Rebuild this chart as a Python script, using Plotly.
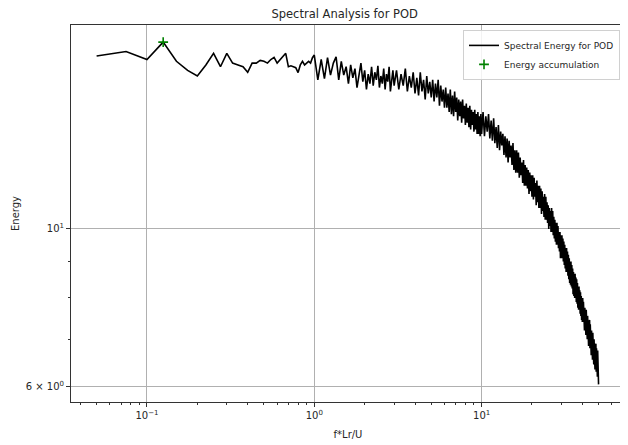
import numpy as np
import plotly.graph_objects as go

# --- data (frequency grids per segment, energies) ---
freq_a = np.round(np.arange(0.05, 1.0001, 0.025), 3)
energy_a = [17.5, 17.75, 17.3, 18.3, 17.2, 16.7, 16.4, 17.0, 17.65, 16.9,
            17.65, 17.1, 17.0, 16.9, 16.6, 17.1, 17.1, 17.25, 17.2, 17.1,
            17.3, 17.42, 17.1, 17.3, 17.5, 17.65, 16.9, 16.95, 16.9, 16.85,
            16.58, 17.0, 17.2, 17.0, 17.1, 17.2, 17.1, 17.4, 17.55]

freq_b = np.round(np.arange(1.05, 3.0001, 0.05), 3)
energy_b = [16.2, 17.3, 16.26, 17.4, 16.45, 17.1, 17.45, 16.2, 17.2, 16.45,
            16.9, 16.0, 17.0, 16.3, 16.8, 15.8, 16.6, 17.1, 16.1, 16.7,
            15.7, 16.5, 16.0, 16.9, 15.9, 16.6, 16.2, 16.95, 15.8, 16.4,
            16.0, 16.8, 15.7, 16.5, 16.1, 16.9, 15.6, 16.3, 16.7, 15.9]

freq_c = np.round(np.arange(3.1, 10.0001, 0.1), 2)
energy_c = [16.7, 15.7, 16.5, 15.9, 16.8, 15.6, 16.4, 15.8, 16.6, 15.5,
            16.3, 15.4, 16.6, 15.6, 16.2, 15.2, 16.4, 15.5, 16.1, 15.3,
            16.2, 15.1, 16.0, 15.3, 16.2, 14.9, 15.9, 15.1, 15.7, 14.8,
            15.8, 14.8, 15.5, 14.6, 15.7, 14.5, 15.4, 14.4, 15.6, 14.6,
            15.3, 14.2, 15.2, 14.4, 15.1, 14.1, 15.2, 14.3, 14.9, 14.0,
            15.0, 14.1, 14.8, 13.9, 14.9, 13.8, 14.7, 14.0, 14.6, 13.7,
            14.7, 13.8, 14.5, 13.6, 14.6, 13.6, 14.4, 13.5, 14.5, 13.6]

freq_d = np.round(np.arange(10.2, 50.0001, 0.2), 2)
energy_d = [14.6, 13.5, 14.4, 13.7, 14.5, 13.4, 14.2, 13.3, 14.3, 13.2,
            13.9, 13.0, 14.0, 12.9, 13.7, 13.1, 13.6, 12.7, 13.5, 12.6,
            13.4, 12.4, 13.3, 12.6, 13.1, 12.3, 13.2, 12.1, 12.9, 12.0,
            12.9, 12.0, 12.8, 11.8, 12.6, 11.9, 12.4, 11.6, 12.5, 11.5,
            12.3, 11.5, 12.2, 11.4, 12.1, 11.2, 12.0, 11.3, 11.9, 11.1,
            11.9, 11.0, 11.8, 11.1, 11.6, 10.8, 11.7, 10.9, 11.5, 10.7,
            11.5, 10.7, 11.4, 10.5, 11.3, 10.6, 11.1, 10.4, 11.2, 10.3,
            11.1, 10.3, 10.9, 10.2, 10.8, 10.0, 10.7, 10.1, 10.6, 9.9,
            10.7, 9.9, 10.6, 9.8, 10.4, 9.7, 10.3, 9.6, 10.2, 9.5,
            10.2, 9.5, 10.1, 9.4, 9.9, 9.3, 9.9, 9.1, 9.8, 9.1,
            9.8, 9.1, 9.7, 9.0, 9.6, 8.9, 9.5, 8.8, 9.4, 8.7,
            9.4, 8.7, 9.3, 8.6, 9.2, 8.5, 9.1, 8.4, 9.0, 8.35,
            9.0, 8.3, 8.9, 8.25, 8.8, 8.1, 8.7, 8.05, 8.6, 8.0,
            8.65, 8.0, 8.55, 7.9, 8.5, 7.85, 8.4, 7.75, 8.3, 7.7,
            8.3, 7.7, 8.2, 7.6, 8.15, 7.55, 8.05, 7.45, 7.95, 7.4,
            8.0, 7.4, 7.9, 7.3, 7.8, 7.2, 7.75, 7.15, 7.7, 7.1,
            7.7, 7.1, 7.6, 7.0, 7.55, 6.95, 7.45, 6.85, 7.4, 6.8,
            7.45, 6.8, 7.35, 6.7, 7.3, 6.65, 7.2, 6.6, 7.15, 6.55,
            7.15, 6.55, 7.05, 6.45, 7.0, 6.4, 6.9, 6.35, 6.85, 6.3,
            6.9, 6.3, 6.8, 6.25, 6.7, 6.2, 6.75, 6.15, 6.6, 6.05]

accum_freq = [0.125]
accum_energy = [18.3]

x_tick_vals = [0.1, 1, 10]
x_tick_text = ["10<sup>−1</sup>", "10<sup>0</sup>", "10<sup>1</sup>"]
y_tick_vals = [6, 10]
y_tick_text = ["6 × 10<sup>0</sup>", "10<sup>1</sup>"]

assert len(freq_a) == len(energy_a), (len(freq_a), len(energy_a))
assert len(freq_b) == len(energy_b), (len(freq_b), len(energy_b))
assert len(freq_c) == len(energy_c), (len(freq_c), len(energy_c))
assert len(freq_d) == len(energy_d), (len(freq_d), len(energy_d))

freq = list(freq_a) + list(freq_b) + list(freq_c) + list(freq_d)
energy = energy_a + energy_b + energy_c + energy_d

FONT = "DejaVu Sans"

fig = go.Figure()
fig.add_trace(go.Scatter(
    x=freq, y=energy, mode="lines", name="Spectral Energy for POD",
    line=dict(color="black", width=1.6)))
fig.add_trace(go.Scatter(
    x=accum_freq, y=accum_energy, mode="markers", name="Energy accumulation",
    marker=dict(symbol="cross-thin", size=7, color="green",
                line=dict(width=1.6, color="green"))))

minor_x = [0.04, 0.05, 0.06, 0.07, 0.08, 0.09, 0.2, 0.3, 0.4, 0.5, 0.6, 0.7,
           0.8, 0.9, 2, 3, 4, 5, 6, 7, 8, 9, 20, 30, 40, 50, 60, 70]
minor_y = [7, 8, 9]

# the page body adds an 8px offset; the figure is sized to fill the rest
fig.update_layout(
    width=620, height=437,
    margin=dict(l=63, r=3, t=17, b=43, autoexpand=False),
    paper_bgcolor="white", plot_bgcolor="white",
    font=dict(family=FONT, size=10, color="#262626"),
    title=dict(text="Spectral Analysis for POD", x=0.543, xanchor="center",
               y=0.986, yanchor="middle",
               font=dict(family=FONT, size=11.5, color="#262626")),
    showlegend=True,
    legend=dict(x=0.991, y=0.987, xanchor="right", yanchor="top",
                bgcolor="rgba(255,255,255,0.85)", bordercolor="#d0d0d0",
                borderwidth=1, font=dict(family=FONT, size=9),
                tracegroupgap=0, itemwidth=30),
)
fig.update_xaxes(
    type="log", range=[-1.454, 1.857], automargin=False,
    tickmode="array", tickvals=x_tick_vals, ticktext=x_tick_text,
    ticks="outside", ticklen=4, tickwidth=0.8, tickcolor="#333",
    showgrid=True, gridcolor="#b0b0b0", gridwidth=0.8,
    showline=True, linecolor="#333", linewidth=1, mirror=True,
    zeroline=False,
    minor=dict(tickmode="array", tickvals=minor_x, ticks="outside",
               ticklen=2, tickwidth=0.6, tickcolor="#333", showgrid=False),
    title=dict(text="f*Lr/U", standoff=10, font=dict(family=FONT, size=10)),
    tickfont=dict(family=FONT, size=10),
)
fig.update_yaxes(
    type="log", range=[0.757, 1.2865], automargin=False,
    tickmode="array", tickvals=y_tick_vals, ticktext=y_tick_text,
    ticks="outside", ticklen=4, tickwidth=0.8, tickcolor="#333",
    showgrid=True, gridcolor="#b0b0b0", gridwidth=0.8,
    showline=True, linecolor="#333", linewidth=1, mirror=True,
    zeroline=False,
    minor=dict(tickmode="array", tickvals=minor_y, ticks="outside",
               ticklen=2, tickwidth=0.6, tickcolor="#333", showgrid=False),
    title=dict(text="Energy", standoff=4, font=dict(family=FONT, size=10)),
    tickfont=dict(family=FONT, size=10),
)

fig.write_html("out.html")
